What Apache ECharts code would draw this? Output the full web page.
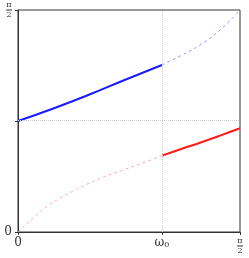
<!DOCTYPE html>
<html>
<head>
<meta charset="utf-8">
<script src="https://cdn.jsdelivr.net/npm/echarts@6/dist/echarts.min.js"></script>
<style>html,body{margin:0;padding:0;background:#fff;}#c{width:249px;height:258px;}</style>
</head>
<body>
<div id="c"></div>
<script>
var HALF_PI = Math.PI / 2;
var OMEGA0 = 1.019;
var MID = Math.PI / 4;

var xTicks = [0, OMEGA0, HALF_PI];
var xTickLabels = ['0', 'ω0', 'π/2'];
var yTicks = [0, MID, HALF_PI];
var yTickLabels = ['0', '', 'π/2'];

var blueSolidX = [0, 0.25, 0.5094, 0.75, 1.019];
var blueSolidY = [0.7854, 0.874, 0.9743, 1.074, 1.1816];
var blueDashX = [1.019, 1.15, 1.2878, 1.43, 1.5708];
var blueDashY = [1.1816, 1.247, 1.3231, 1.43, 1.5708];

var redDashX = [0, 0.0495, 0.1295, 0.2101, 0.2993, 0.3941, 0.4882, 0.5873, 0.7337, 0.8844, 1.019];
var redDashY = [0, 0.0446, 0.118, 0.184, 0.240, 0.292, 0.338, 0.382, 0.435, 0.489, 0.54];
var redSolidX = [1.019, 1.15, 1.2878, 1.43, 1.5708];
var redSolidY = [0.54, 0.586, 0.632, 0.682, 0.7337];

function pairs(xs, ys) { return xs.map(function (x, i) { return [x, ys[i]]; }); }

var FONT = 'DejaVu Serif';
var fracRich = {
  n: { fontFamily: FONT, fontSize: 8, color: '#333', align: 'center', lineHeight: 8 },
  l: { width: 6, height: 1, backgroundColor: '#333', lineHeight: 2, align: 'center' },
  d: { fontFamily: FONT, fontSize: 8, color: '#333', align: 'center', lineHeight: 8 },
  w: { fontFamily: FONT, fontSize: 12, color: '#333' },
  s: { fontFamily: FONT, fontSize: 8, color: '#333', verticalAlign: 'bottom', padding: [4, 0, 0, 0] }
};
function fmt(label) {
  if (label === 'π/2') return '{n|π}\n{l|}\n{d|2}';
  if (label === 'ω0') return '{w|ω}{s|0}';
  return label;
}

var chart = echarts.init(document.getElementById('c'), null, { renderer: 'canvas' });
chart.setOption({
  animation: false,
  backgroundColor: '#fff',
  grid: { left: 18, right: 9, top: 10, bottom: 26, show: true, borderColor: '#333', borderWidth: 1, backgroundColor: 'transparent' },
  xAxis: {
    type: 'value', min: 0, max: HALF_PI,
    axisLine: { show: true, lineStyle: { color: '#333', width: 1 } },
    axisTick: { show: true, length: 3, customValues: xTicks, lineStyle: { color: '#333' } },
    axisLabel: {
      customValues: xTicks, margin: 5, color: '#333', fontFamily: FONT, fontSize: 12,
      formatter: function (v) { var i = xTicks.indexOf(v); return fmt(xTickLabels[i]); },
      rich: fracRich
    },
    splitLine: { show: false }
  },
  yAxis: {
    type: 'value', min: 0, max: HALF_PI,
    axisLine: { show: true, lineStyle: { color: '#333', width: 1 } },
    axisTick: { show: true, length: 3, customValues: yTicks, lineStyle: { color: '#333' } },
    axisLabel: {
      customValues: yTicks, margin: 6, color: '#333', fontFamily: FONT, fontSize: 12,
      formatter: function (v) { var i = yTicks.indexOf(v); return fmt(yTickLabels[i]); },
      rich: fracRich
    },
    splitLine: { show: false }
  },
  series: [
    {
      type: 'line', data: pairs(redDashX, redDashY), smooth: true, showSymbol: false,
      lineStyle: { color: '#ffaaaa', width: 1, type: [3, 3] },
      markLine: {
        silent: true, symbol: 'none', label: { show: false },
        lineStyle: { color: '#d0d0d0', width: 1, type: [1, 1] },
        data: [{ xAxis: OMEGA0 }, { yAxis: MID }]
      },
      z: 2
    },
    {
      type: 'line', data: pairs(blueDashX, blueDashY), smooth: true, showSymbol: false,
      lineStyle: { color: '#9999ff', width: 1, type: [3, 3] }, z: 2
    },
    {
      type: 'line', data: pairs(blueSolidX, blueSolidY), smooth: true, showSymbol: false,
      lineStyle: { color: '#1a1aff', width: 2 }, z: 3
    },
    {
      type: 'line', data: pairs(redSolidX, redSolidY), smooth: true, showSymbol: false,
      lineStyle: { color: '#ff1a1a', width: 2 }, z: 3
    }
  ]
});
</script>
</body>
</html>
